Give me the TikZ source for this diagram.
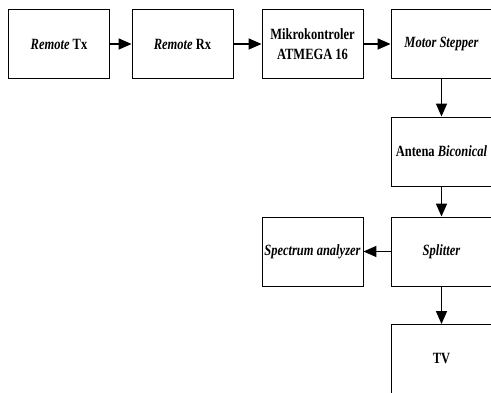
\documentclass[tikz,border=0pt]{standalone}
\usepackage{fontspec}
\setmainfont{Liberation Serif}
\usetikzlibrary{arrows.meta}

% taller letters, as in the scanned figure
\newcommand{\tallbox}[1]{\scalebox{1}[1.25]{#1}}

\begin{document}
\begin{tikzpicture}[x=1pt, y=1pt,
  block/.style = {draw, line width=0.9pt, minimum width=101pt, minimum height=69pt,
                  inner sep=0pt, font=\fontsize{12.5}{20}\selectfont\bfseries, align=center},
  flow/.style = {line width=1.6pt, -{Triangle[length=13pt, width=11pt]}}]

\def \w {491}
\def \h {393}

% Fixed frame of the picture
\useasboundingbox (0,0) rectangle (\w,\h);

% Top row
\node (tx) at (59, 349) [block] {\tallbox{\textit{Remote} Tx}};
\node (rx) at (182.5, 349) [block] {\tallbox{\textit{Remote} Rx}};
\node (mcu) at (312.5, 349) [block] {\tallbox{Mikrokontroler}\\\tallbox{ATMEGA 16}};
\node (motor) at (441.5, 349) [block] {\tallbox{\textit{Motor Stepper}}};

% Right column
\node (antena) at (441.5, 241.5) [block] {\tallbox{Antena \textit{Biconical}}};
\node (splitter) at (441.5, 141.5) [block] {\tallbox{\textit{Splitter}}};
\node (tv) at (441.5, 34) [block] {\tallbox{TV}};

% Side output
\node (spectrum) at (312.5, 141.5) [block] {\tallbox{\textit{Spectrum analyzer}}};

% Signal flow
\draw [flow] (tx) -- (rx);
\draw [flow] (rx) -- (mcu);
\draw [flow] (mcu) -- (motor);
\draw [flow] (motor) -- (antena);
\draw [flow] (antena) -- (splitter);
\draw [flow] (splitter) -- (spectrum);
\draw [flow] (splitter) -- (tv);

\end{tikzpicture}
\end{document}
